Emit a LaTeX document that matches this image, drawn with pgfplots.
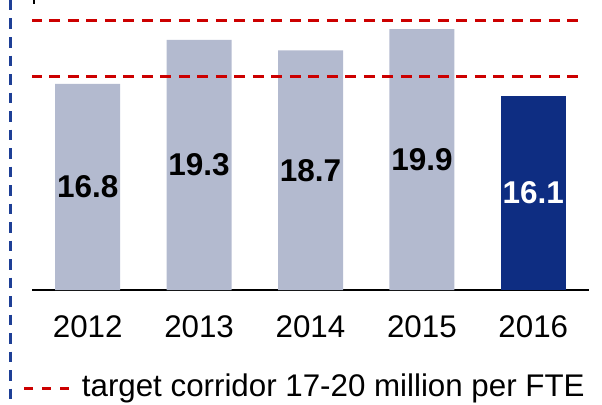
\documentclass[border=0pt]{standalone}
\usepackage{pgfplots}
\pgfplotsset{compat=1.18}
\usepackage{fontspec}
\setmainfont{Liberation Sans}
\definecolor{barlight}{HTML}{B3BACF}
\definecolor{bardark}{HTML}{0E2D82}
\definecolor{tgtred}{HTML}{CC0000}
\definecolor{sepblue}{HTML}{1E3F96}
\begin{document}
\begin{tikzpicture}[x=1bp,y=1bp]
\useasboundingbox (0,0) rectangle (602,404);
\draw[sepblue, line width=3bp, dash pattern=on 10.5bp off 8bp] (10,404) -- (10,0);
\draw[black, line width=2.3bp] (33.8,404) -- (33.8,400);
\begin{axis}[
  at={(32bp,114bp)}, anchor=south west, scale only axis,
  width=557bp, height=290bp,
  xmin=-0.5, xmax=4.5, ymin=5.08, ymax=21.56,
  axis x line=bottom, axis y line=none,
  x axis line style={-, line width=2.4bp, black},
  xtick={0,1,2,3,4}, xticklabels={2012,2013,2014,2015,2016},
  major tick length=0pt,
  xticklabel style={font=\fontsize{31.3bp}{32bp}\selectfont, inner sep=0pt, anchor=north, yshift=-25bp},
  ytick=\empty,
]
\addplot[ybar, bar width=65bp, bar shift=0pt, fill=barlight, draw=none]
  coordinates {(0,16.8) (1,19.3) (2,18.7) (3,19.9)};
\addplot[ybar, bar width=65bp, bar shift=0pt, fill=bardark, draw=none]
  coordinates {(4,16.1)};
\addplot[tgtred, line width=3.4bp, dash pattern=on 10.7bp off 7.8bp]
  coordinates {(-0.51,20.4) (4.45,20.4)};
\addplot[tgtred, line width=3.4bp, dash pattern=on 10.7bp off 7.8bp]
  coordinates {(-0.51,17.2) (4.45,17.2)};
\addplot[draw=none, mark=none, nodes near coords, point meta=explicit symbolic,
  nodes near coords style={font=\bfseries\fontsize{31.5bp}{32bp}\selectfont, anchor=center, inner sep=0pt, text=black}]
  table[x=x, y expr=(\thisrow{v}+5.08)/2, meta=lab] {
x v lab
0 16.8 16.8
1 19.3 19.3
2 18.7 18.7
3 19.9 19.9
};
\addplot[draw=none, mark=none, nodes near coords, point meta=explicit symbolic,
  nodes near coords style={font=\bfseries\fontsize{31.5bp}{32bp}\selectfont, anchor=center, inner sep=0pt, text=white}]
  table[x=x, y expr=(\thisrow{v}+5.08)/2, meta=lab] {
x v lab
4 16.1 16.1
};
\end{axis}
\draw[tgtred, line width=3bp, dash pattern=on 9bp off 9bp] (24,16) -- (70,16);
\node[anchor=base west, inner sep=0pt, font=\fontsize{31.3bp}{32bp}\selectfont] at (81.7,8) {target corridor 17-20 million per FTE};
\end{tikzpicture}
\end{document}
